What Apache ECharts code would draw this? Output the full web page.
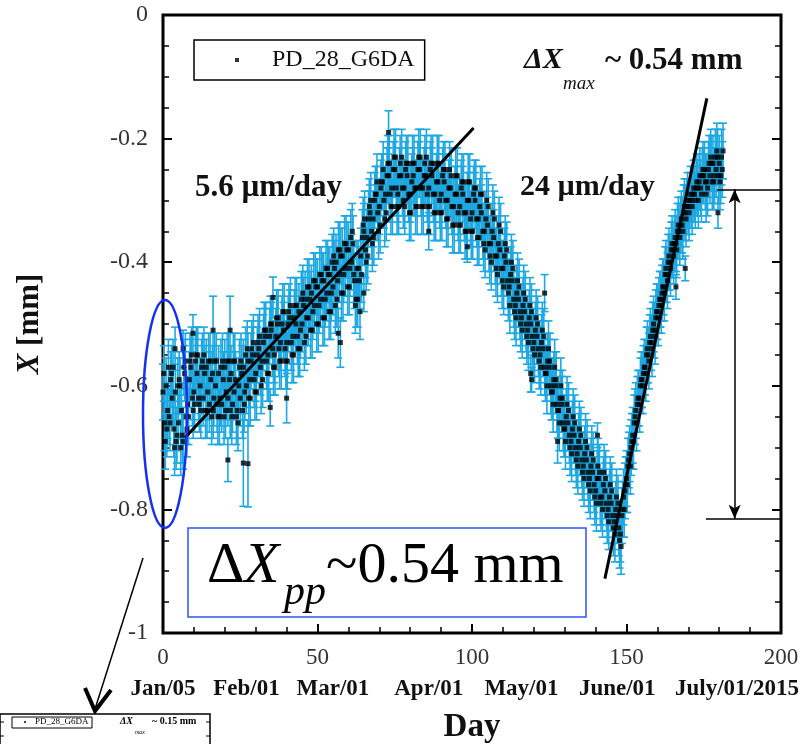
<!DOCTYPE html>
<html>
<head>
<meta charset="utf-8">
<script src="https://cdn.jsdelivr.net/npm/echarts@6/dist/echarts.min.js"></script>
<style>
html, body { margin: 0; padding: 0; background: #fff; }
#main { width: 802px; height: 744px; }
</style>
</head>
<body>
<div id="main"></div>
<script>
// position readings, one every half day from day 0
var dayStep = 0.5;
var posX = [
  -0.61,-0.66,-0.60,-0.64,-0.65,-0.59,-0.62,-0.67,-0.61,-0.68,-0.66,-0.60,-0.64,-0.69,-0.58,-0.65,-0.63,-0.59,-0.57,-0.62,
  -0.61,-0.56,-0.58,-0.62,-0.60,-0.57,-0.62,-0.58,-0.57,-0.61,-0.63,-0.59,-0.58,-0.62,-0.60,-0.63,-0.58,-0.62,-0.63,-0.59,
  -0.57,-0.61,-0.62,-0.59,-0.58,-0.63,-0.61,-0.59,-0.64,-0.60,-0.62,-0.58,-0.57,-0.61,-0.60,-0.56,-0.59,-0.56,-0.55,-0.59,
  -0.58,-0.55,-0.54,-0.57,-0.56,-0.53,-0.52,-0.56,-0.55,-0.52,-0.51,-0.54,-0.55,-0.52,-0.50,-0.54,-0.53,-0.50,-0.51,-0.54,
  -0.53,-0.50,-0.49,-0.53,-0.52,-0.49,-0.50,-0.52,-0.48,-0.51,-0.50,-0.47,-0.46,-0.49,-0.49,-0.46,-0.45,-0.48,-0.47,-0.44,
  -0.44,-0.47,-0.46,-0.43,-0.43,-0.46,-0.45,-0.42,-0.42,-0.45,-0.44,-0.41,-0.40,-0.43,-0.42,-0.39,-0.39,-0.42,-0.41,-0.38,
  -0.38,-0.41,-0.40,-0.37,-0.43,-0.46,-0.46,-0.43,-0.39,-0.36,-0.35,-0.38,-0.36,-0.33,-0.32,-0.35,-0.33,-0.30,-0.29,-0.32,
  -0.31,-0.28,-0.27,-0.30,-0.29,-0.26,-0.26,-0.29,-0.28,-0.25,-0.25,-0.28,-0.29,-0.26,-0.26,-0.28,-0.28,-0.25,-0.26,-0.29,
  -0.29,-0.27,-0.26,-0.28,-0.28,-0.25,-0.25,-0.28,-0.28,-0.26,-0.26,-0.29,-0.28,-0.25,-0.26,-0.29,-0.29,-0.27,-0.27,-0.30,
  -0.29,-0.26,-0.27,-0.30,-0.30,-0.28,-0.28,-0.31,-0.31,-0.29,-0.29,-0.32,-0.31,-0.28,-0.29,-0.32,-0.32,-0.30,-0.30,-0.33,
  -0.32,-0.29,-0.30,-0.33,-0.33,-0.31,-0.32,-0.35,-0.35,-0.33,-0.34,-0.37,-0.37,-0.35,-0.36,-0.39,-0.39,-0.37,-0.38,-0.41,
  -0.41,-0.39,-0.40,-0.43,-0.44,-0.42,-0.43,-0.46,-0.47,-0.45,-0.46,-0.48,-0.49,-0.47,-0.48,-0.50,-0.51,-0.49,-0.50,-0.52,
  -0.53,-0.51,-0.52,-0.54,-0.55,-0.53,-0.54,-0.57,-0.58,-0.56,-0.57,-0.60,-0.61,-0.59,-0.60,-0.63,-0.64,-0.62,-0.63,-0.66,
  -0.67,-0.65,-0.66,-0.68,-0.69,-0.67,-0.68,-0.70,-0.71,-0.69,-0.70,-0.72,-0.73,-0.71,-0.72,-0.74,-0.75,-0.73,-0.74,-0.76,
  -0.77,-0.75,-0.75,-0.78,-0.78,-0.76,-0.77,-0.79,-0.80,-0.78,-0.79,-0.81,-0.82,-0.80,-0.81,-0.83,-0.84,-0.81,-0.78,-0.77,
  -0.75,-0.73,-0.71,-0.70,-0.68,-0.66,-0.64,-0.63,-0.62,-0.60,-0.59,-0.58,-0.57,-0.55,-0.55,-0.53,-0.53,-0.51,-0.51,-0.49,
  -0.48,-0.47,-0.46,-0.45,-0.44,-0.42,-0.42,-0.40,-0.40,-0.38,-0.38,-0.37,-0.37,-0.35,-0.35,-0.34,-0.34,-0.32,-0.32,-0.31,
  -0.31,-0.30,-0.30,-0.29,-0.29,-0.28,-0.28,-0.27,-0.28,-0.26,-0.26,-0.27,-0.27,-0.25,-0.26,-0.24,-0.24,-0.26,-0.25,-0.23,
  -0.24,-0.26,-0.25
];
// readings in between, starting a quarter day in
var midOffset = 0.25;
var posXMid = [
  -0.58,-0.69,-0.67,-0.57,-0.66,-0.58,-0.57,-0.70,-0.69,-0.60,-0.59,-0.70,-0.68,-0.57,-0.56,-0.67,-0.65,-0.56,-0.55,-0.64,
  -0.63,-0.55,-0.55,-0.63,-0.64,-0.56,-0.55,-0.64,-0.64,-0.56,-0.56,-0.65,-0.64,-0.56,-0.56,-0.65,-0.65,-0.57,-0.56,-0.65,
  -0.64,-0.56,-0.56,-0.64,-0.65,-0.56,-0.56,-0.65,-0.66,-0.57,-0.56,-0.64,-0.63,-0.55,-0.54,-0.62,-0.62,-0.54,-0.53,-0.61,
  -0.61,-0.53,-0.52,-0.60,-0.59,-0.51,-0.51,-0.58,-0.58,-0.50,-0.50,-0.57,-0.57,-0.49,-0.49,-0.56,-0.56,-0.48,-0.48,-0.56,
  -0.56,-0.48,-0.47,-0.55,-0.55,-0.47,-0.47,-0.54,-0.54,-0.46,-0.45,-0.53,-0.52,-0.44,-0.44,-0.51,-0.51,-0.43,-0.43,-0.50,
  -0.50,-0.42,-0.42,-0.49,-0.49,-0.41,-0.41,-0.48,-0.48,-0.40,-0.39,-0.47,-0.46,-0.38,-0.38,-0.45,-0.45,-0.37,-0.37,-0.44,
  -0.44,-0.36,-0.35,-0.42,-0.47,-0.41,-0.41,-0.48,-0.42,-0.34,-0.33,-0.40,-0.39,-0.31,-0.30,-0.37,-0.36,-0.29,-0.27,-0.35,
  -0.34,-0.27,-0.25,-0.33,-0.32,-0.24,-0.24,-0.31,-0.31,-0.23,-0.23,-0.31,-0.31,-0.24,-0.23,-0.30,-0.31,-0.24,-0.24,-0.32,
  -0.32,-0.24,-0.24,-0.31,-0.31,-0.23,-0.23,-0.31,-0.31,-0.24,-0.23,-0.31,-0.31,-0.24,-0.24,-0.32,-0.32,-0.24,-0.24,-0.32,
  -0.32,-0.25,-0.25,-0.33,-0.33,-0.25,-0.26,-0.34,-0.34,-0.26,-0.26,-0.34,-0.34,-0.27,-0.27,-0.35,-0.35,-0.27,-0.27,-0.35,
  -0.35,-0.28,-0.28,-0.36,-0.36,-0.29,-0.29,-0.37,-0.38,-0.30,-0.31,-0.39,-0.40,-0.32,-0.33,-0.41,-0.42,-0.34,-0.35,-0.43,
  -0.44,-0.37,-0.38,-0.45,-0.47,-0.40,-0.41,-0.48,-0.49,-0.43,-0.44,-0.50,-0.51,-0.45,-0.46,-0.52,-0.53,-0.47,-0.48,-0.54,
  -0.55,-0.49,-0.50,-0.56,-0.57,-0.51,-0.52,-0.58,-0.60,-0.54,-0.56,-0.61,-0.63,-0.57,-0.59,-0.64,-0.66,-0.60,-0.62,-0.67,
  -0.69,-0.63,-0.64,-0.70,-0.71,-0.65,-0.66,-0.72,-0.73,-0.67,-0.68,-0.74,-0.75,-0.69,-0.70,-0.76,-0.77,-0.71,-0.72,-0.78,
  -0.79,-0.73,-0.74,-0.79,-0.80,-0.74,-0.75,-0.81,-0.82,-0.76,-0.77,-0.83,-0.84,-0.78,-0.79,-0.85,-0.86,-0.80,-0.80,-0.76,
  -0.76,-0.72,-0.73,-0.69,-0.69,-0.65,-0.66,-0.62,-0.63,-0.59,-0.60,-0.57,-0.58,-0.54,-0.56,-0.52,-0.54,-0.50,-0.52,-0.48,
  -0.49,-0.46,-0.47,-0.44,-0.45,-0.41,-0.43,-0.39,-0.41,-0.37,-0.39,-0.36,-0.38,-0.34,-0.36,-0.33,-0.35,-0.31,-0.33,-0.30,
  -0.32,-0.29,-0.31,-0.28,-0.30,-0.27,-0.30,-0.26,-0.29,-0.25,-0.25,-0.29,-0.28,-0.24,-0.23,-0.27,-0.27,-0.23,-0.22,-0.26,
  -0.27,-0.23,-0.22
];
var errHalf = 0.045;
// stray points: day, X, error
var outliers = [
  [3.9,-0.54,0.035],[6.5,-0.54,0.03],[9.7,-0.515,0.03],[16.2,-0.51,0.055],[21.7,-0.51,0.055],
  [21,-0.72,0.035],[26,-0.725,0.07],[27.5,-0.726,0.07],[34.7,-0.635,0.03],[35.6,-0.457,0.033],
  [40,-0.62,0.04],[56.7,-0.515,0.04],[57.4,-0.53,0.04],[65,-0.45,0.03],[73,-0.19,0.035],
  [86,-0.35,0.03],[98.5,-0.375,0.025],[119,-0.58,0.03],[119.3,-0.59,0.02],[123.5,-0.45,0.03],
  [127.7,-0.69,0.035],[140.6,-0.68,0.02],[166,-0.44,0.02],[169,-0.41,0.02],[179.6,-0.32,0.025]
];
var fitSlow = [[7.1,-0.684],[100.5,-0.183]];
var fitFast = [[143,-0.912],[176,-0.135]];
var peakLevel = -0.282, troughLevel = -0.815;
var dateDays = [0, 27, 55, 86, 116, 147, 177];
var dateLabels = ['Jan/05','Feb/01','Mar/01','Apr/01','May/01','June/01','July/01/2015'];

var serif = "'Liberation Serif', 'DejaVu Serif', serif";
var errColor = '#1ea8e1';

var pts = [], errs = [];
for (var i = 0; i < posX.length; i++) {
    pts.push([i * dayStep, posX[i]]);
    errs.push([i * dayStep, posX[i], errHalf]);
}
for (var j = 0; j < posXMid.length; j++) {
    pts.push([midOffset + j * dayStep, posXMid[j]]);
    errs.push([midOffset + j * dayStep, posXMid[j], errHalf]);
}
outliers.forEach(function (o) {
    pts.push([o[0], o[1]]);
    errs.push(o);
});

function renderErr(params, api) {
    var x = api.value(0), y = api.value(1), e = api.value(2);
    var top = api.coord([x, y + e]);
    var bot = api.coord([x, y - e]);
    var w = 4;
    var st = { stroke: errColor, lineWidth: 1.6 };
    return {
        type: 'group',
        children: [
            { type: 'line', shape: { x1: top[0], y1: top[1], x2: bot[0], y2: bot[1] }, style: st },
            { type: 'line', shape: { x1: top[0] - w, y1: top[1], x2: top[0] + w, y2: top[1] }, style: st },
            { type: 'line', shape: { x1: bot[0] - w, y1: bot[1], x2: bot[0] + w, y2: bot[1] }, style: st }
        ]
    };
}

var chart = echarts.init(document.getElementById('main'));

var tickStyle = { color: '#000', width: 2 };
var minorStyle = { color: '#000', width: 1.5 };
var gridBox = { left: 163, right: 21, top: 15, bottom: 111 };

var option = {
    backgroundColor: '#fff',
    animation: false,
    grid: [
        { left: gridBox.left, right: gridBox.right, top: gridBox.top, bottom: gridBox.bottom,
          outerBoundsMode: 'none', show: true, borderColor: '#000', borderWidth: 3 },
        { left: gridBox.left, right: gridBox.right, top: gridBox.top, bottom: gridBox.bottom,
          outerBoundsMode: 'none' }
    ],
    legend: {
        left: 194, top: 40,
        data: ['PD_28_G6DA'],
        itemWidth: 4, itemHeight: 4,
        borderColor: '#000', borderWidth: 1.5, borderRadius: 0,
        padding: [8, 10, 8, 41],
        textStyle: { fontFamily: serif, fontSize: 24, color: '#111', padding: [0, 0, 0, 28] }
    },
    xAxis: [{
        type: 'value', min: 0, max: 200, interval: 50, position: 'bottom',
        name: 'Day', nameLocation: 'middle', nameGap: 78,
        nameTextStyle: { fontFamily: serif, fontWeight: 'bold', fontSize: 33, color: '#111' },
        axisLine: { show: false, onZero: false },
        axisTick: { inside: true, length: 9, lineStyle: tickStyle },
        minorTick: { show: true, splitNumber: 5, length: 6, lineStyle: minorStyle },
        splitLine: { show: false },
        axisLabel: { margin: 13, fontFamily: serif, fontSize: 23, color: '#333' }
    }, {
        gridIndex: 1,
        type: 'value', min: 0, max: 200, position: 'bottom',
        axisLine: { show: false, onZero: false }, axisTick: { show: false }, splitLine: { show: false },
        axisLabel: {
            customValues: dateDays, margin: 45,
            fontFamily: serif, fontWeight: 'bold', fontSize: 23, color: '#111',
            formatter: function (v) {
                var k = dateDays.indexOf(v);
                if (k === dateDays.length - 1) return '{j|' + dateLabels[k] + '}';
                return k >= 0 ? dateLabels[k] : '';
            },
            rich: { j: { fontFamily: serif, fontWeight: 'bold', fontSize: 23, color: '#111', padding: [0, 0, 0, 54] } }
        }
    }],
    yAxis: [{
        type: 'value', min: -1, max: 0, interval: 0.2, position: 'left',
        name: '{i|X} [mm]', nameLocation: 'middle', nameRotate: 90, nameGap: 118,
        nameTextStyle: {
            fontFamily: serif, fontWeight: 'bold', fontSize: 31, color: '#111',
            rich: { i: { fontFamily: serif, fontWeight: 'bold', fontStyle: 'italic', fontSize: 31, color: '#111' } }
        },
        axisLine: { show: false, onZero: false },
        axisTick: { inside: true, length: 9, lineStyle: tickStyle },
        minorTick: { show: true, splitNumber: 4, length: 6, lineStyle: minorStyle },
        splitLine: { show: false },
        axisLabel: { margin: 15, fontFamily: serif, fontSize: 24, color: '#333' }
    }, {
        type: 'value', min: -1, max: 0, interval: 0.2, position: 'right',
        axisLine: { show: false, onZero: false },
        axisTick: { inside: true, length: 9, lineStyle: tickStyle },
        minorTick: { show: true, splitNumber: 4, length: 6, lineStyle: minorStyle },
        splitLine: { show: false },
        axisLabel: { show: false }
    }, {
        gridIndex: 1, type: 'value', min: -1, max: 0, show: false
    }],
    series: [{
        type: 'custom',
        renderItem: renderErr,
        encode: { x: 0, y: 1 },
        data: errs,
        z: 1,
        silent: true
    }, {
        name: 'PD_28_G6DA',
        type: 'scatter',
        symbol: 'rect',
        symbolSize: 5,
        itemStyle: { color: '#000' },
        data: pts,
        z: 2
    }, {
        type: 'line',
        data: fitSlow,
        showSymbol: false,
        lineStyle: { color: '#000', width: 3 },
        z: 3
    }, {
        type: 'line',
        data: fitFast,
        showSymbol: false,
        lineStyle: { color: '#000', width: 3 },
        z: 3,
        markLine: {
            silent: true,
            symbol: ['none', 'none'],
            label: { show: false },
            lineStyle: { color: '#000', width: 1.5, type: 'solid' },
            data: [
                [{ coord: [179.3, peakLevel] }, { coord: [200, peakLevel] }],
                [{ coord: [175.7, troughLevel] }, { coord: [200, troughLevel] }],
                [{ coord: [185, peakLevel], symbol: 'arrow', symbolSize: [9, 14] },
                 { coord: [185, troughLevel], symbol: 'arrow', symbolSize: [9, 14] }]
            ]
        }
    }],
    graphic: [
        { type: 'text', left: 195, top: 172, style: { text: '5.6 µm/day', font: 'bold 31px ' + serif, fill: '#111' } },
        { type: 'text', left: 520, top: 172, style: { text: '24 µm/day', font: 'bold 30px ' + serif, fill: '#111' } },
        { type: 'text', left: 524, top: 45, style: { text: 'ΔX', font: 'italic bold 30px ' + serif, fill: '#111' } },
        { type: 'text', left: 563, top: 74, style: { text: 'max', font: 'italic 19px ' + serif, fill: '#111' } },
        { type: 'text', left: 605, top: 45, style: { text: '~ 0.54 mm', font: 'bold 31px ' + serif, fill: '#111' } },
        // blue ellipse
        { type: 'ellipse', shape: { cx: 165, cy: 414, rx: 22, ry: 114 }, style: { fill: 'none', stroke: '#1530f0', lineWidth: 2.5 }, z: 10 },
        // blue box
        { type: 'rect', shape: { x: 188, y: 528, width: 398, height: 89 }, style: { fill: 'none', stroke: '#2c55f5', lineWidth: 1.5 }, z: 10 },
        { type: 'text', left: 207, top: 538, style: { text: 'Δ', font: '58px ' + serif, fill: '#000' }, z: 10 },
        { type: 'text', left: 244, top: 538, style: { text: 'X', font: 'italic 58px ' + serif, fill: '#000' }, z: 10 },
        { type: 'text', left: 284, top: 572, style: { text: 'pp', font: 'italic 42px ' + serif, fill: '#000' }, z: 10 },
        { type: 'text', left: 326, top: 538, style: { text: '~0.54 mm', font: '58px ' + serif, fill: '#000' }, z: 10 },
        // arrow to inset
        { type: 'line', shape: { x1: 143, y1: 558, x2: 95, y2: 709 }, style: { stroke: '#000', lineWidth: 1.5 }, z: 10 },
        { type: 'polyline', shape: { points: [[85, 688], [95, 711], [111, 690]] }, style: { fill: 'none', stroke: '#000', lineWidth: 4 }, z: 10 },
        // inset thumbnail
        { type: 'rect', shape: { x: 0, y: 714, width: 210, height: 40 }, style: { fill: '#fff', stroke: '#000', lineWidth: 1.5 }, z: 10 },
        { type: 'line', shape: { x1: 0, y1: 722, x2: 4, y2: 722 }, style: { stroke: '#000', lineWidth: 1 }, z: 10 },
        { type: 'line', shape: { x1: 0, y1: 736, x2: 4, y2: 736 }, style: { stroke: '#000', lineWidth: 1 }, z: 10 },
        { type: 'line', shape: { x1: 206, y1: 722, x2: 210, y2: 722 }, style: { stroke: '#000', lineWidth: 1 }, z: 10 },
        { type: 'line', shape: { x1: 206, y1: 736, x2: 210, y2: 736 }, style: { stroke: '#000', lineWidth: 1 }, z: 10 },
        { type: 'rect', shape: { x: 12, y: 717, width: 80, height: 11 }, style: { fill: 'none', stroke: '#000', lineWidth: 1 }, z: 10 },
        { type: 'circle', shape: { cx: 25, cy: 722, r: 1 }, style: { fill: '#000' }, z: 10 },
        { type: 'text', left: 35, top: 717, style: { text: 'PD_28_G6DA', font: '9px ' + serif, fill: '#000' }, z: 10 },
        { type: 'text', left: 120, top: 716, style: { text: 'ΔX', font: 'italic bold 10px ' + serif, fill: '#000' }, z: 10 },
        { type: 'text', left: 135, top: 729, style: { text: 'max', font: 'italic 6px ' + serif, fill: '#000' }, z: 10 },
        { type: 'text', left: 152, top: 716, style: { text: '~ 0.15 mm', font: 'bold 10px ' + serif, fill: '#000' }, z: 10 }
    ]
};

chart.setOption(option);
</script>
</body>
</html>
